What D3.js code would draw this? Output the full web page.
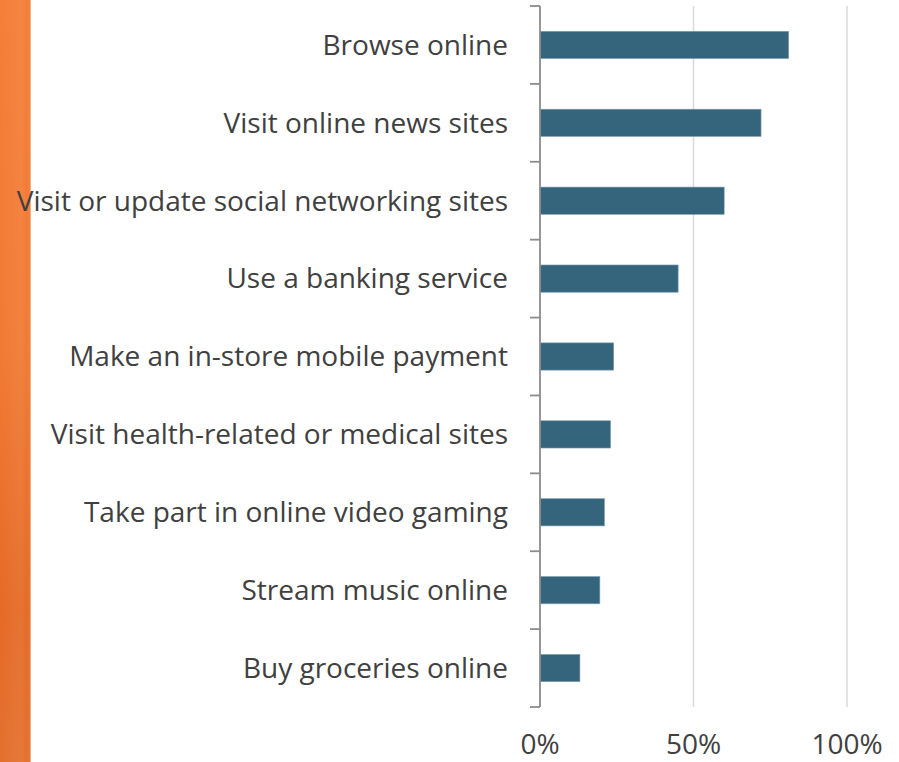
<!DOCTYPE html>
<html>
<head>
<meta charset="utf-8">
<script src="https://cdn.jsdelivr.net/npm/d3@7"></script>
<style>
  html, body { margin: 0; padding: 0; background: #ffffff; }
  svg { display: block; }
  text { font-family: "Open Sans", "Noto Sans", sans-serif; fill: #404040; }
</style>
</head>
<body>
<script>
// Share of respondents doing each activity on their phone (%)
const activities = [
  "Browse online",
  "Visit online news sites",
  "Visit or update social networking sites",
  "Use a banking service",
  "Make an in-store mobile payment",
  "Visit health-related or medical sites",
  "Take part in online video gaming",
  "Stream music online",
  "Buy groceries online"
];
const shares = [81, 72, 60, 45, 24, 23, 21, 19.5, 13];
const tickValues = [0, 50, 100];
const tickLabels = ["0%", "50%", "100%"];

const width = 899, height = 762;
const svg = d3.select("body").append("svg")
  .attr("width", width).attr("height", height);

// Decorative orange band along the left edge
const defs = svg.append("defs");
const grad = defs.append("linearGradient").attr("id", "band")
  .attr("x1", 0).attr("y1", 0).attr("x2", 0).attr("y2", 1);
grad.append("stop").attr("offset", "0%").attr("stop-color", "#f47e37");
grad.append("stop").attr("offset", "45%").attr("stop-color", "#f17a33");
grad.append("stop").attr("offset", "80%").attr("stop-color", "#e56a26");
grad.append("stop").attr("offset", "100%").attr("stop-color", "#e4702e");
const gradH = defs.append("linearGradient").attr("id", "bandEdge")
  .attr("x1", 0).attr("y1", 0).attr("x2", 1).attr("y2", 0);
gradH.append("stop").attr("offset", "0%").attr("stop-color", "#ffffff").attr("stop-opacity", 0);
gradH.append("stop").attr("offset", "70%").attr("stop-color", "#ffffff").attr("stop-opacity", 0.06);
gradH.append("stop").attr("offset", "90%").attr("stop-color", "#ffffff").attr("stop-opacity", 0);
gradH.append("stop").attr("offset", "100%").attr("stop-color", "#c85414").attr("stop-opacity", 0.25);

svg.append("rect").attr("x", 0).attr("y", 0).attr("width", 30.5).attr("height", height)
  .attr("fill", "url(#band)");
svg.append("rect").attr("x", 0).attr("y", 0).attr("width", 30.5).attr("height", height)
  .attr("fill", "url(#bandEdge)");

// Plot extent
const plotTop = 6, plotBottom = 707;

// Scales
const x = d3.scaleLinear().domain([0, 100]).range([540, 847]);
const y = d3.scaleBand().domain(activities).range([plotTop, plotBottom]).paddingInner(0.65).paddingOuter(0.325);
const yEdges = d3.scaleBand().domain(activities).range([plotTop, plotBottom]).padding(0);

// Vertical gridlines
svg.append("g").selectAll("line")
  .data(tickValues.filter(v => v > 0))
  .join("line")
  .attr("x1", d => x(d)).attr("x2", d => x(d))
  .attr("y1", plotTop).attr("y2", plotBottom)
  .attr("stroke", "#d9d9d9").attr("stroke-width", 1.5);

// Bars
svg.append("g").selectAll("rect")
  .data(activities.map((a, i) => ({ a, v: shares[i] })))
  .join("rect")
  .attr("x", x(0))
  .attr("y", d => y(d.a))
  .attr("width", d => x(d.v) - x(0))
  .attr("height", y.bandwidth())
  .attr("fill", "#35657c")
  .attr("stroke", "#7f9fb0").attr("stroke-width", 0.6);

// Category axis: line with outward ticks at band boundaries
const axisG = svg.append("g");
axisG.append("line")
  .attr("x1", x(0)).attr("x2", x(0))
  .attr("y1", plotTop).attr("y2", plotBottom)
  .attr("stroke", "#8c8c8c").attr("stroke-width", 1.8);
const edges = activities.map(a => yEdges(a)).concat([plotBottom]);
axisG.selectAll("line.tick")
  .data(edges)
  .join("line").attr("class", "tick")
  .attr("x1", x(0) - 10).attr("x2", x(0))
  .attr("y1", d => d).attr("y2", d => d)
  .attr("stroke", "#8c8c8c").attr("stroke-width", 1.8);

// Category labels
svg.append("g").selectAll("text")
  .data(activities)
  .join("text")
  .attr("x", 508)
  .attr("y", d => y(d) + y.bandwidth() / 2)
  .attr("dy", "0.35em")
  .attr("text-anchor", "end")
  .attr("font-size", 28)
  .text(d => d);

// Value axis labels
svg.append("g").selectAll("text")
  .data(tickValues)
  .join("text")
  .attr("x", d => x(d))
  .attr("y", 754)
  .attr("text-anchor", "middle")
  .attr("font-size", 28)
  .text((d, i) => tickLabels[i]);
</script>
</body>
</html>
